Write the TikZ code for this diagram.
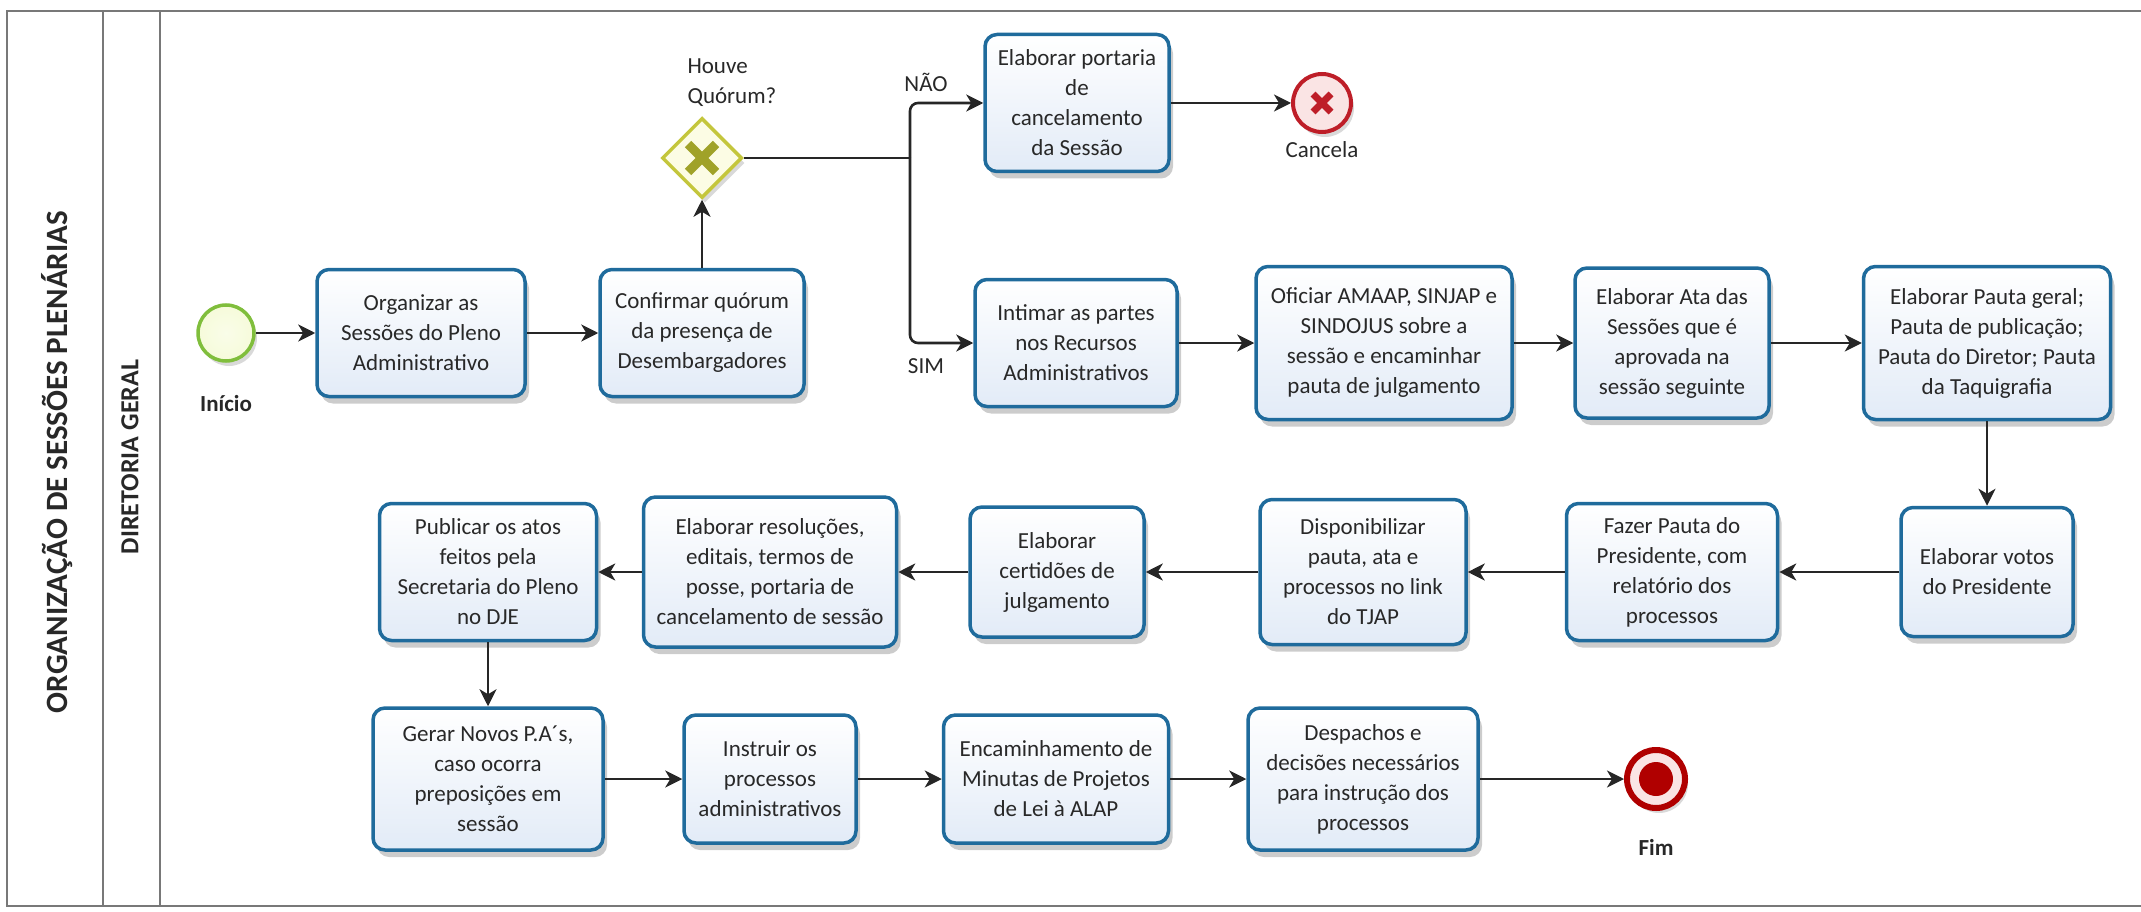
\documentclass[tikz,border=0pt]{standalone}
\usepackage{fontspec}
\setmainfont{Carlito}
\usetikzlibrary{arrows.meta,shapes.geometric,shadows,calc}
\definecolor{boxblue}{RGB}{31,107,156}
\definecolor{boxfill}{RGB}{226,235,247}
\definecolor{txt}{RGB}{40,40,40}
\definecolor{lanegray}{RGB}{120,120,120}
\definecolor{startgreen}{RGB}{128,190,60}
\definecolor{startfill}{RGB}{246,251,218}
\definecolor{gwborder}{RGB}{196,198,60}
\definecolor{gwfill}{RGB}{252,252,228}
\definecolor{gwx}{RGB}{160,162,40}
\definecolor{endred}{RGB}{190,30,40}
\definecolor{endfill}{RGB}{250,228,228}
\definecolor{fimred}{RGB}{176,0,0}
\begin{document}
\begin{tikzpicture}[x=1pt,y=-1pt,
  task/.style={rectangle, rounded corners=12pt, draw=boxblue, line width=3.5pt,
    top color=white, bottom color=boxfill, align=center, text=txt,
    font=\fontsize{23}{30}\selectfont, inner sep=3pt,
    drop shadow={shadow xshift=4pt, shadow yshift=-7pt, opacity=0.2, fill=black}},
  arr/.style={draw=black!85, line width=2.6pt, -{Stealth[length=17pt,width=17pt,inset=5pt]}},
  plainline/.style={draw=black!85, line width=2.6pt},
  lane/.style={draw=lanegray, line width=2.5pt},
  lbl/.style={text=txt, font=\fontsize{23}{30}\selectfont},
  blbl/.style={text=txt, font=\bfseries\fontsize{23}{30}\selectfont}
]
\useasboundingbox (0,0) rectangle (2141,912);

% pool and lane
\draw[lane] (2141,11) -- (7,11) -- (7,906) -- (2141,906);
\draw[lane] (103,11) -- (103,906);
\draw[lane] (160,11) -- (160,906);
\node[rotate=90, text=txt, font=\bfseries\fontsize{31}{36}\selectfont] (pool) at (57,462) {ORGANIZAÇÃO DE SESSÕES PLENÁRIAS};
\node[rotate=90, text=txt, font=\bfseries\fontsize{26}{30}\selectfont] (lanename) at (130,457) {DIRETORIA GERAL};

% events and gateway
\node[circle, draw=startgreen, line width=3.5pt, inner color=startfill!60, outer color=startfill, minimum size=56pt,
  drop shadow={shadow xshift=3pt, shadow yshift=-5pt, opacity=0.15, fill=black}] (start) at (226,333) {};
\node[blbl] (inicio) at (226,404) {Início};

\node[diamond, aspect=1, draw=gwborder, line width=3.5pt, fill=gwfill, minimum width=80pt, minimum height=80pt, inner sep=0pt,
  drop shadow={shadow xshift=3pt, shadow yshift=-5pt, opacity=0.15, fill=black}] (gw) at (702,158) {};
\draw[gwx, line width=9pt] ($(gw.center)+(-14,-14)$) -- ($(gw.center)+(14,14)$);
\draw[gwx, line width=9pt] ($(gw.center)+(-14,14)$) -- ($(gw.center)+(14,-14)$);
\node[lbl, align=left, anchor=north west] (gwlabel) at (684,55) {Houve\\Quórum?};

\node[circle, draw=endred, line width=4pt, fill=endfill, minimum size=58pt,
  drop shadow={shadow xshift=3pt, shadow yshift=-5pt, opacity=0.15, fill=black}] (canc) at (1322,103) {};
\draw[endred, line width=7pt] ($(canc.center)+(-9,-9)$) -- ($(canc.center)+(9,9)$);
\draw[endred, line width=7pt] ($(canc.center)+(-9,9)$) -- ($(canc.center)+(9,-9)$);
\node[lbl] (canclabel) at (1322,150) {Cancela};

\node[circle, draw=fimred, line width=6pt, fill=endfill, minimum size=58pt,
  drop shadow={shadow xshift=3pt, shadow yshift=-5pt, opacity=0.15, fill=black}] (fim) at (1656,779) {};
\fill[fimred] (fim.center) circle (17pt);
\node[blbl] (fimlabel) at (1656,847) {Fim};

% tasks row 1
\node[task, minimum width=208pt, minimum height=127pt] (org) at (421,333) {Organizar as\\Sessões do Pleno\\Administrativo};
\node[task, minimum width=204pt, minimum height=127pt] (conf) at (702,333) {Confirmar quórum\\da presença de\\Desembargadores};
\node[task, minimum width=184pt, minimum height=137pt] (port) at (1077,103) {Elaborar portaria\\de\\cancelamento\\da Sessão};
\node[task, minimum width=202pt, minimum height=127pt] (int) at (1076,343) {Intimar as partes\\nos Recursos\\Administrativos};
\node[task, minimum width=256pt, minimum height=153pt] (ofi) at (1384,343) {Oficiar AMAAP, SINJAP e\\SINDOJUS sobre a\\sessão e encaminhar\\pauta de julgamento};
\node[task, minimum width=194pt, minimum height=150pt] (ata) at (1672,343) {Elaborar Ata das\\Sessões que é\\aprovada na\\sessão seguinte};
\node[task, minimum width=247pt, minimum height=153pt] (pauta) at (1987,343) {Elaborar Pauta geral;\\Pauta de publicação;\\Pauta do Diretor; Pauta\\da Taquigrafia};

% tasks row 2
\node[task, minimum width=172pt, minimum height=129pt] (votos) at (1987,572) {Elaborar votos\\do Presidente};
\node[task, minimum width=211pt, minimum height=137pt] (fazer) at (1672,572) {Fazer Pauta do\\Presidente, com\\relatório dos\\processos};
\node[task, minimum width=206pt, minimum height=145pt] (disp) at (1363,572) {Disponibilizar\\pauta, ata e\\processos no link\\do TJAP};
\node[task, minimum width=174pt, minimum height=130pt] (cert) at (1057,572) {Elaborar\\certidões de\\julgamento};
\node[task, minimum width=253pt, minimum height=150pt] (res) at (770,572) {Elaborar resoluções,\\editais, termos de\\posse, portaria de\\cancelamento de sessão};
\node[task, minimum width=217pt, minimum height=137pt] (pub) at (488,572) {Publicar os atos\\feitos pela\\Secretaria do Pleno\\no DJE};

% tasks row 3
\node[task, minimum width=230pt, minimum height=142pt] (gerar) at (488,779) {Gerar Novos P.A´s,\\caso ocorra\\preposições em\\sessão};
\node[task, minimum width=172pt, minimum height=128pt] (instr) at (770,779) {Instruir os\\processos\\administrativos};
\node[task, minimum width=225pt, minimum height=128pt] (enc) at (1056,779) {Encaminhamento de\\Minutas de Projetos\\de Lei à ALAP};
\node[task, minimum width=230pt, minimum height=142pt] (desp) at (1363,779) {Despachos e\\decisões necessários\\para instrução dos\\processos};

% connectors
\draw[arr] (start) -- (org);
\draw[arr] (org) -- (conf);
\draw[arr] (conf) -- (gw);
\coordinate (split) at (910,158);
\draw[plainline] (gw.east) -- (split);
\draw[arr, rounded corners=8pt] (split) |- (port.west);
\draw[arr, rounded corners=8pt] (split) |- (int.west);
\node[lbl] (nao) at (926,82) {NÃO};
\node[lbl] (sim) at (926,366) {SIM};
\draw[arr] (port) -- (canc);
\draw[arr] (int) -- (ofi);
\draw[arr] (ofi) -- (ata);
\draw[arr] (ata) -- (pauta);
\draw[arr] (pauta) -- (votos);
\draw[arr] (votos) -- (fazer);
\draw[arr] (fazer) -- (disp);
\draw[arr] (disp) -- (cert);
\draw[arr] (cert) -- (res);
\draw[arr] (res) -- (pub);
\draw[arr] (pub) -- (gerar);
\draw[arr] (gerar) -- (instr);
\draw[arr] (instr) -- (enc);
\draw[arr] (enc) -- (desp);
\draw[arr] (desp) -- (fim);
\end{tikzpicture}
\end{document}
